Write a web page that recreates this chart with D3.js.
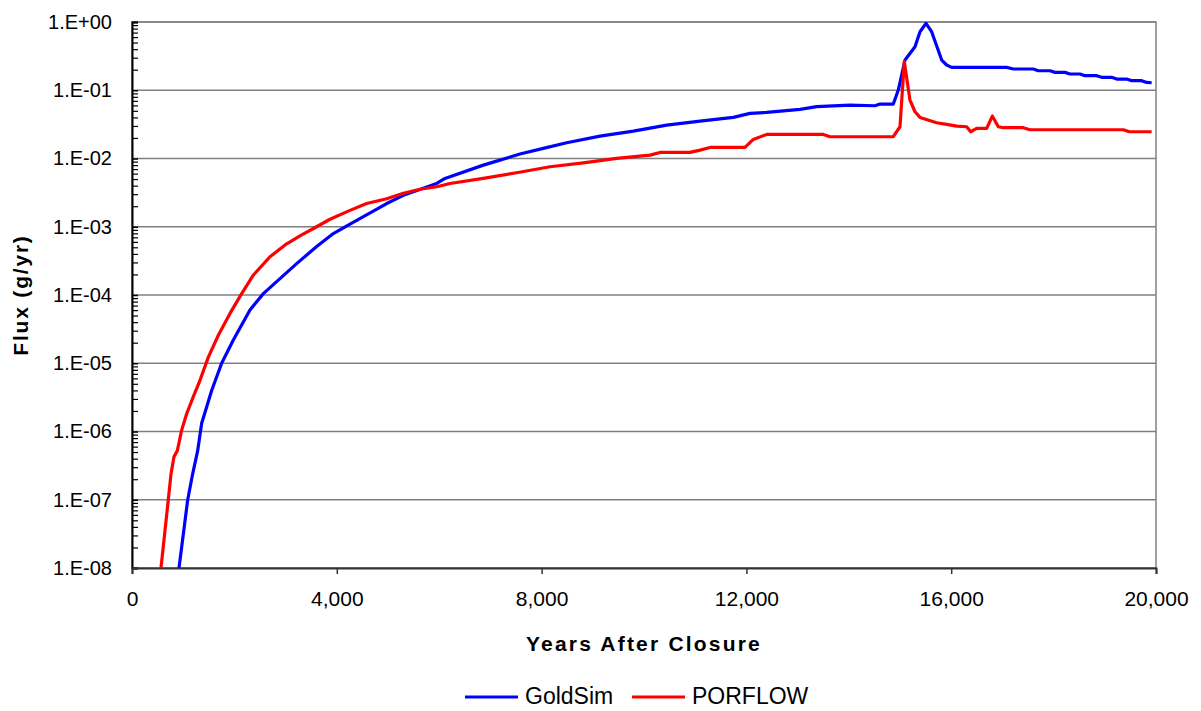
<!DOCTYPE html>
<html>
<head>
<meta charset="utf-8">
<script src="https://cdn.jsdelivr.net/npm/d3@7"></script>
<style>
  body { margin: 0; background: #fff; }
  text { font-family: "Liberation Sans", Arial, sans-serif; fill: #000; }
</style>
</head>
<body>
<div id="chart"></div>
<script>
// years after closure / log10 flux
const goldsimYears = [918, 1088, 1185, 1283, 1361, 1556, 1751, 1979, 2304, 2565, 2890, 3216, 3607, 3932, 4258, 4616, 4974, 5300, 5495, 5951, 6113, 6862, 7122, 7578, 8034, 8490, 9141, 9792, 10443, 11094, 11745, 12070, 12396, 13047, 13372, 14023, 14511, 14609, 14869, 14967, 15098, 15293, 15391, 15508, 15618, 15814, 15911, 16009, 17083, 17213, 17604, 17701, 17930, 18027, 18223, 18320, 18516, 18613, 18841, 18938, 19134, 19232, 19427, 19525, 19720, 19818, 19915];
const goldsimLogFlux = [-8.0, -7.0, -6.62, -6.28, -5.88, -5.40, -5.00, -4.66, -4.22, -3.98, -3.76, -3.54, -3.29, -3.10, -2.96, -2.81, -2.66, -2.54, -2.488, -2.366, -2.292, -2.097, -2.038, -1.935, -1.852, -1.769, -1.672, -1.598, -1.510, -1.452, -1.398, -1.339, -1.325, -1.281, -1.241, -1.217, -1.227, -1.202, -1.202, -0.997, -0.557, -0.362, -0.142, -0.020, -0.142, -0.557, -0.630, -0.665, -0.665, -0.689, -0.689, -0.714, -0.714, -0.738, -0.738, -0.762, -0.762, -0.787, -0.787, -0.811, -0.811, -0.836, -0.836, -0.860, -0.860, -0.885, -0.890];

const porflowYears = [566, 709, 762, 820, 886, 970, 1068, 1198, 1328, 1491, 1686, 1914, 2142, 2369, 2695, 3021, 3314, 3607, 3867, 4258, 4583, 4974, 5300, 5625, 5951, 6211, 6862, 7513, 8164, 8815, 9466, 10117, 10313, 10898, 11094, 11289, 11972, 12135, 12396, 13502, 13632, 14023, 14869, 15000, 15084, 15195, 15293, 15391, 15716, 15911, 16107, 16302, 16380, 16497, 16693, 16803, 16920, 17018, 17408, 17539, 19362, 19479, 19915];
const porflowLogFlux = [-8.0, -7.0, -6.62, -6.37, -6.28, -5.98, -5.74, -5.49, -5.25, -4.91, -4.59, -4.27, -3.98, -3.71, -3.44, -3.25, -3.12, -3.00, -2.89, -2.76, -2.66, -2.59, -2.51, -2.45, -2.414, -2.366, -2.292, -2.209, -2.121, -2.063, -1.999, -1.950, -1.911, -1.911, -1.877, -1.838, -1.838, -1.720, -1.647, -1.647, -1.681, -1.681, -1.681, -1.535, -0.582, -1.144, -1.315, -1.398, -1.476, -1.500, -1.525, -1.535, -1.608, -1.559, -1.559, -1.378, -1.535, -1.549, -1.549, -1.579, -1.579, -1.608, -1.608];

const xTickValues = [0, 4000, 8000, 12000, 16000, 20000];
const yTickValues = [1e-8, 1e-7, 1e-6, 1e-5, 1e-4, 1e-3, 1e-2, 1e-1, 1];
const seriesNames = ["GoldSim", "PORFLOW"];
const seriesColors = ["#0000ff", "#ff0000"];

/* svg setup */
const width = 1201, height = 711;
const margin = { top: 22, right: 45, bottom: 143, left: 132 };
const plotWidth = width - margin.left - margin.right;
const plotHeight = height - margin.top - margin.bottom;

const svg = d3.select("#chart")
  .append("svg")
  .attr("width", width)
  .attr("height", height);

const g = svg.append("g")
  .attr("transform", `translate(${margin.left},${margin.top})`);

const x = d3.scaleLinear().domain([0, 20000]).range([0, plotWidth]);
const y = d3.scaleLog().domain([1e-8, 1]).range([plotHeight, 0]);

// plot frame (gray)
g.append("rect")
  .attr("width", plotWidth)
  .attr("height", plotHeight)
  .attr("fill", "none")
  .attr("stroke", "#808080")
  .attr("stroke-width", 1.5);

// horizontal gridlines
g.append("g")
  .selectAll("line")
  .data(yTickValues)
  .join("line")
  .attr("x1", 0)
  .attr("x2", plotWidth)
  .attr("y1", d => y(d))
  .attr("y2", d => y(d))
  .attr("stroke", "#808080")
  .attr("stroke-width", 1.5);

// minor ticks inside the left axis
const minorTicks = [];
yTickValues.slice(0, -1).forEach(d => {
  for (let k = 2; k <= 9; k++) minorTicks.push(d * k);
});

g.append("g")
  .call(d3.axisLeft(y).tickValues(minorTicks).tickSize(-6).tickFormat(""))
  .call(a => a.select(".domain").remove())
  .selectAll("line").attr("stroke", "#000").attr("stroke-width", 1.2);

const fmtExp = d => {
  const e = Math.round(Math.log10(d));
  return "1.E" + (e < 0 ? "-" : "+") + String(Math.abs(e)).padStart(2, "0");
};

const yAxis = g.append("g")
  .call(d3.axisLeft(y).tickValues(yTickValues).tickSize(-6).tickPadding(20).tickFormat(fmtExp));
yAxis.select(".domain").attr("stroke", "#000").attr("stroke-width", 2);
yAxis.selectAll("line").attr("stroke", "#000").attr("stroke-width", 1.5);
yAxis.selectAll("text").attr("font-size", 20).attr("font-family", "Liberation Sans, Arial, sans-serif");

const xAxis = g.append("g")
  .attr("transform", `translate(0,${plotHeight})`)
  .call(d3.axisBottom(x).tickValues(xTickValues).tickSize(6).tickSizeOuter(6).tickPadding(17).tickFormat(d3.format(",")));
xAxis.select(".domain").attr("stroke", "#333").attr("stroke-width", 2);
xAxis.selectAll("line").attr("stroke", "#333").attr("stroke-width", 1.5);
xAxis.selectAll("text").attr("font-size", 21).attr("font-family", "Liberation Sans, Arial, sans-serif");

// series
const line = d3.line()
  .x(d => x(d[0]))
  .y(d => y(Math.pow(10, d[1])));

const series = [
  d3.zip(goldsimYears, goldsimLogFlux),
  d3.zip(porflowYears, porflowLogFlux)
];

g.selectAll(".series")
  .data(series)
  .join("path")
  .attr("class", "series")
  .attr("d", line)
  .attr("fill", "none")
  .attr("stroke", (d, i) => seriesColors[i])
  .attr("stroke-width", 3.2)
  .attr("stroke-linejoin", "round");

// axis titles
svg.append("text")
  .attr("x", margin.left + plotWidth / 2)
  .attr("y", 651)
  .attr("text-anchor", "middle")
  .attr("font-size", 21)
  .attr("font-weight", "bold")
  .attr("letter-spacing", 2.2)
  .text("Years After Closure");

svg.append("text")
  .attr("transform", `translate(28,${margin.top + plotHeight / 2}) rotate(-90)`)
  .attr("text-anchor", "middle")
  .attr("font-size", 21)
  .attr("font-weight", "bold")
  .attr("letter-spacing", 1.8)
  .text("Flux (g/yr)");

// legend
const legendX = [465, 632];
const legend = svg.append("g");
seriesNames.forEach((name, i) => {
  legend.append("line")
    .attr("x1", legendX[i])
    .attr("x2", legendX[i] + 53)
    .attr("y1", 697)
    .attr("y2", 697)
    .attr("stroke", seriesColors[i])
    .attr("stroke-width", 3.2);
  legend.append("text")
    .attr("x", legendX[i] + 60)
    .attr("y", 704)
    .attr("font-size", 23)
    .text(name);
});
</script>
</body>
</html>
